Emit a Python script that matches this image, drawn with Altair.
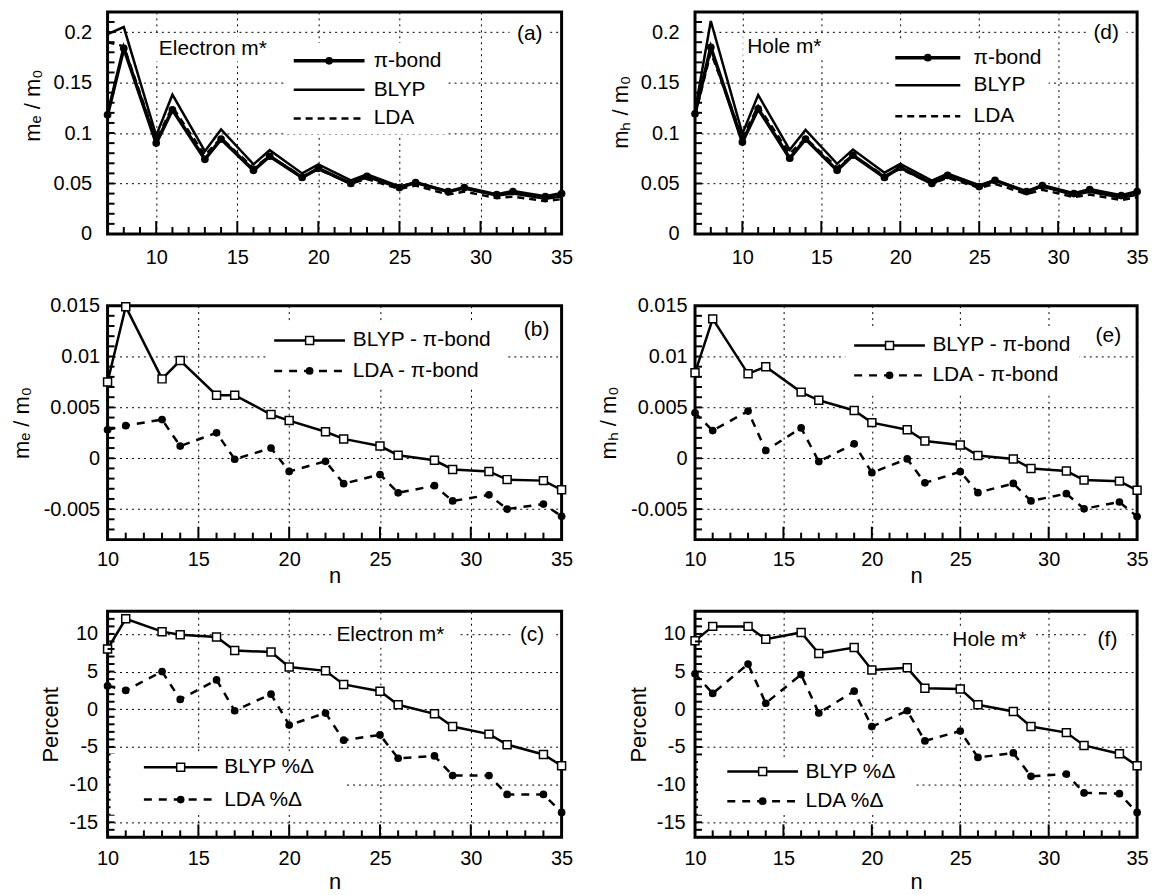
import altair as alt
import pandas as pd

FONT = "Liberation Sans"

# ---------------- data ----------------
n_full = [7, 8, 10, 11, 13, 14, 16, 17, 19, 20, 22, 23, 25, 26, 28, 29, 31, 32, 34, 35]
n_sub = [10, 11, 13, 14, 16, 17, 19, 20, 22, 23, 25, 26, 28, 29, 31, 32, 34, 35]

# (a) electron effective mass
e_pibond = [0.118, 0.184, 0.090, 0.123, 0.074, 0.094, 0.063, 0.077, 0.056, 0.065,
            0.050, 0.057, 0.046, 0.051, 0.042, 0.046, 0.039, 0.042, 0.037, 0.040]
e_blyp = [0.198, 0.205, 0.0975, 0.138, 0.082, 0.1035, 0.069, 0.083, 0.060, 0.069,
          0.053, 0.059, 0.047, 0.051, 0.042, 0.045, 0.038, 0.040, 0.035, 0.037]
e_lda = [0.190, 0.186, 0.093, 0.126, 0.078, 0.095, 0.0655, 0.077, 0.057, 0.064,
         0.050, 0.0545, 0.0445, 0.048, 0.039, 0.042, 0.0355, 0.037, 0.0325, 0.0345]

# (d) hole effective mass
h_pibond = [0.119, 0.185, 0.091, 0.124, 0.075, 0.094, 0.063, 0.078, 0.056, 0.066,
            0.050, 0.058, 0.047, 0.053, 0.042, 0.048, 0.040, 0.044, 0.038, 0.042]
h_blyp = [0.122, 0.211, 0.0994, 0.1377, 0.0833, 0.103, 0.0695, 0.0837, 0.0607, 0.0695,
          0.0528, 0.0597, 0.0483, 0.0533, 0.0419, 0.047, 0.0387, 0.0419, 0.0358, 0.0389]
h_lda = [0.117, 0.180, 0.0955, 0.1267, 0.0796, 0.0948, 0.066, 0.0777, 0.0574, 0.0646,
         0.0499, 0.0556, 0.0457, 0.0496, 0.0395, 0.0438, 0.0365, 0.039, 0.0337, 0.0363]

# (b) electron differences
e_dblyp = [0.0075, 0.0149, 0.0078, 0.0096, 0.0062, 0.0062, 0.0043, 0.0037, 0.0026,
           0.0019, 0.0012, 0.0003, -0.0002, -0.0011, -0.0013, -0.0021, -0.0022, -0.0031]
e_dlda = [0.0028, 0.0032, 0.0038, 0.0012, 0.0025, -0.0001, 0.0010, -0.0013, -0.0003,
          -0.0025, -0.0016, -0.0034, -0.0027, -0.0042, -0.0036, -0.0050, -0.0045, -0.0057]

# (e) hole differences
h_dblyp = [0.0084, 0.0137, 0.0083, 0.0090, 0.0065, 0.0057, 0.0047, 0.0035, 0.0028,
           0.0017, 0.0013, 0.00026, -0.00007, -0.0010, -0.00126, -0.00215, -0.00225, -0.00315]
h_dlda = [0.00447, 0.00272, 0.00464, 0.00076, 0.00298, -0.00033, 0.00142, -0.00142, -0.00007,
          -0.00242, -0.00132, -0.00338, -0.00248, -0.0042, -0.00348, -0.00497, -0.0043, -0.00573]

# (c) electron percent
e_pblyp = [8.0, 12.0, 10.3, 9.9, 9.6, 7.8, 7.6, 5.6, 5.1, 3.3, 2.4, 0.6, -0.6, -2.3, -3.3, -4.7, -6.0, -7.5]
e_plda = [3.1, 2.5, 5.0, 1.3, 3.9, -0.2, 2.0, -2.1, -0.5, -4.1, -3.4, -6.5, -6.2, -8.8, -8.8, -11.3, -11.3, -13.7]

# (f) hole percent
h_pblyp = [9.1, 11.0, 11.0, 9.3, 10.2, 7.4, 8.2, 5.2, 5.5, 2.8, 2.7, 0.6, -0.3, -2.3, -3.1, -4.8, -5.9, -7.5]
h_plda = [4.7, 2.1, 6.0, 0.8, 4.6, -0.5, 2.4, -2.3, -0.2, -4.2, -2.9, -6.4, -5.8, -8.9, -8.6, -11.1, -11.2, -13.7]

# axis tick values
mass_x_major = [10, 15, 20, 25, 30, 35]
mass_x_minor = [8, 9, 11, 12, 13, 14, 16, 17, 18, 19, 21, 22, 23, 24, 26, 27, 28, 29, 31, 32, 33, 34]
mass_y_major = [0, 0.05, 0.1, 0.15, 0.2]
mass_y_minor = [0.01, 0.02, 0.03, 0.04, 0.05, 0.06, 0.07, 0.08, 0.09, 0.1, 0.11, 0.12,
                0.13, 0.14, 0.15, 0.16, 0.17, 0.18, 0.19, 0.2, 0.21]
diff_y_major = [-0.005, 0, 0.005, 0.01, 0.015]
diff_y_minor = [-0.007, -0.006, -0.005, -0.004, -0.003, -0.002, -0.001, 0, 0.001, 0.002, 0.003,
                0.004, 0.005, 0.006, 0.007, 0.008, 0.009, 0.01, 0.011, 0.012, 0.013, 0.014]
pct_y_major = [-15, -10, -5, 0, 5, 10]
pct_y_minor = [-16, -15, -14, -13, -12, -11, -10, -9, -8, -7, -6, -5, -4, -3, -2, -1, 0,
               1, 2, 3, 4, 5, 6, 7, 8, 9, 10, 11, 12]
sub_x_major = [10, 15, 20, 25, 30, 35]
sub_x_minor = [11, 12, 13, 14, 16, 17, 18, 19, 21, 22, 23, 24, 26, 27, 28, 29, 31, 32, 33, 34]

WL, WR = 456, 444
H1, H2, H3 = 223, 235, 227
LAB = 20
TIT = 22
LEG = 21

ONE = pd.DataFrame({"k": [0]})
MINUS_FIX = "replace(format(datum.value, '~g'), '\u2212', '-')"


def note(text, x, y, align="left", size=LEG):
    w = len(text) * size * 0.52 + 8
    if align == "left":
        x0, x1 = x - 4, x - 4 + w
    else:
        x0, x1 = x - w / 2, x + w / 2
    return [
        alt.Chart(ONE).mark_rect(color="white").encode(
            x=alt.value(x0), x2=alt.value(x1),
            y=alt.value(y - size * 0.6), y2=alt.value(y + size * 0.6)),
        alt.Chart(ONE).mark_text(
            text=text, font=FONT, fontSize=size, color="black", align=align, baseline="middle"
        ).encode(x=alt.value(x), y=alt.value(y)),
    ]


def legend(entries, x0, x1, xt, ys, box):
    layers = [alt.Chart(ONE).mark_rect(color="white").encode(
        x=alt.value(box[0]), x2=alt.value(box[1]), y=alt.value(box[2]), y2=alt.value(box[3]))]
    for (label, sw, dash, marker), yy in zip(entries, ys):
        kw = {"color": "black", "strokeWidth": sw}
        if dash:
            kw["strokeDash"] = dash
        layers.append(alt.Chart(ONE).mark_rule(**kw).encode(
            x=alt.value(x0), x2=alt.value(x1), y=alt.value(yy)))
        if marker == "circle":
            layers.append(alt.Chart(ONE).mark_point(
                shape="circle", filled=True, color="black", size=60, opacity=1
            ).encode(x=alt.value((x0 + x1) / 2), y=alt.value(yy)))
        elif marker == "square":
            layers.append(alt.Chart(ONE).mark_point(
                shape="square", filled=True, fill="white", stroke="black", strokeWidth=1.5,
                size=64, opacity=1
            ).encode(x=alt.value((x0 + x1) / 2), y=alt.value(yy)))
        layers.append(alt.Chart(ONE).mark_text(
            text=label, font=FONT, fontSize=LEG, color="black", align="left", baseline="middle"
        ).encode(x=alt.value(xt), y=alt.value(yy)))
    return layers


def panel(W, H, n, series, xdom, ydom, xmajor, xminor, ymajor, yminor, ytitle, xtitle,
          lpx, tpx, lpy, tpy, titleY, extra):
    rows = []
    for s in series:
        for xv, yv in zip(n, s["values"]):
            rows.append({"n": xv, "v": yv, "s": s["name"]})
    df = pd.DataFrame(rows)
    xscale = alt.Scale(domain=xdom, nice=False, zero=False)
    yscale = alt.Scale(domain=ydom, nice=False, zero=False)
    xaxis_kw = dict(values=xmajor, grid=True, gridColor="black", gridDash=[2, 4], gridWidth=1,
                    gridOpacity=1, ticks=False, domain=False, labelFont=FONT, labelFontSize=LAB,
                    labelColor="black", labelPadding=lpx, labelFlush=False, labelOverlap=False,
                    titleFont=FONT, titleFontSize=TIT, titleFontWeight="normal",
                    titleColor="black", titlePadding=tpx)
    xaxis_kw["title"] = xtitle if xtitle else None
    yaxis_kw = dict(values=ymajor, grid=True, gridColor="black", gridDash=[2, 4], gridWidth=1,
                    gridOpacity=1, ticks=False, domain=False, labelFont=FONT, labelFontSize=LAB,
                    labelColor="black", labelPadding=lpy, labelFlush=False, labelOverlap=False,
                    labelExpr=MINUS_FIX, title=ytitle, titleFont=FONT, titleFontSize=TIT,
                    titleFontWeight="normal", titleColor="black", titlePadding=tpy)
    if titleY is not None:
        yaxis_kw["titleY"] = titleY
    X = alt.X("n:Q", scale=xscale, axis=alt.Axis(**xaxis_kw))
    Y = alt.Y("v:Q", scale=yscale, axis=alt.Axis(**yaxis_kw))

    layers = []
    base = alt.Chart(df)
    for s in series:
        kw = {"color": "black", "strokeWidth": s["sw"]}
        if s.get("dash"):
            kw["strokeDash"] = s["dash"]
        layers.append(base.transform_filter(alt.datum.s == s["name"]).mark_line(**kw).encode(x=X, y=Y))
    for s in series:
        if s.get("marker") == "circle":
            layers.append(base.transform_filter(alt.datum.s == s["name"]).mark_point(
                shape="circle", filled=True, color="black", size=60, opacity=1).encode(x=X, y=Y))
        elif s.get("marker") == "square":
            layers.append(base.transform_filter(alt.datum.s == s["name"]).mark_point(
                shape="square", filled=True, fill="white", stroke="black", strokeWidth=1.5,
                size=64, opacity=1).encode(x=X, y=Y))
    # inward ticks
    xt_major = [v for v in xmajor if xdom[0] < v < xdom[1]]
    layers.append(alt.Chart(pd.DataFrame({"n": xt_major})).mark_rule(color="black", strokeWidth=2).encode(
        x=X, y=alt.value(H), y2=alt.value(H - 13)))
    layers.append(alt.Chart(pd.DataFrame({"n": xminor})).mark_rule(color="black", strokeWidth=2).encode(
        x=X, y=alt.value(H), y2=alt.value(H - 7)))
    layers.append(alt.Chart(pd.DataFrame({"v": yminor})).mark_rule(color="black", strokeWidth=2).encode(
        y=Y, x=alt.value(0), x2=alt.value(7)))
    layers += extra
    return alt.layer(*layers).properties(width=W, height=H)


mass_series = lambda pi, bl, ld: [
    {"name": "pi", "values": pi, "sw": 3.5, "marker": "circle"},
    {"name": "blyp", "values": bl, "sw": 2.5},
    {"name": "lda", "values": ld, "sw": 2.5, "dash": [7, 5]}]
diff_series = lambda bl, ld: [
    {"name": "blyp", "values": bl, "sw": 2.5, "marker": "square"},
    {"name": "lda", "values": ld, "sw": 2.5, "dash": [8, 7], "marker": "circle"}]
mass_leg = [("\u03c0-bond", 3.5, None, "circle"), ("BLYP", 2.5, None, None), ("LDA", 2.5, [7, 5], None)]
diff_leg = [("BLYP - \u03c0-bond", 2.5, None, "square"), ("LDA - \u03c0-bond", 2.5, [8, 7], "circle")]
pct_leg = [("BLYP %\u0394", 2.5, None, "square"), ("LDA %\u0394", 2.5, [8, 7], "circle")]

# ---------- panel (a) ----------
W, H = WL, H1
ext_a = (legend(mass_leg, 0.41 * W, 0.566 * W, 0.586 * W, [0.22 * H, 0.35 * H, 0.48 * H],
                (0.39 * W, 0.75 * W, 0.14 * H, 0.55 * H))
         + note("Electron m*", 0.113 * W, 0.167 * H)
         + note("(a)", 0.93 * W, 0.10 * H, align="center"))
pa = panel(W, H, n_full, mass_series(e_pibond, e_blyp, e_lda),
           [7, 35], [0, 0.22], mass_x_major, mass_x_minor, mass_y_major, mass_y_minor,
           "m\u2091 / m\u2080", None, 14, 0, 16, 8, 0.42 * H, ext_a)

# ---------- panel (d) ----------
W, H = WR, H1
ext_d = (legend(mass_leg, 0.453 * W, 0.60 * W, 0.63 * W, [0.206 * H, 0.33 * H, 0.47 * H],
                (0.44 * W, 0.80 * W, 0.13 * H, 0.54 * H))
         + note("Hole m*", 0.118 * W, 0.16 * H)
         + note("(d)", 0.93 * W, 0.096 * H, align="center"))
pdd = panel(W, H, n_full, mass_series(h_pibond, h_blyp, h_lda),
            [7, 35], [0, 0.22], mass_x_major, mass_x_minor, mass_y_major, mass_y_minor,
            "m\u2095 / m\u2080", None, 14, 0, 16, 8, 0.45 * H, ext_d)

# ---------- panel (b) ----------
W, H = WL, H2
ext_b = (legend(diff_leg, 0.367 * W, 0.523 * W, 0.54 * W, [0.149 * H, 0.279 * H],
                (0.35 * W, 0.88 * W, 0.07 * H, 0.35 * H))
         + note("(b)", 0.945 * W, 0.106 * H, align="center"))
pb = panel(W, H, n_sub, diff_series(e_dblyp, e_dlda),
           [10, 35], [-0.008, 0.015], sub_x_major, sub_x_minor, diff_y_major, diff_y_minor,
           "m\u2091 / m\u2080", "n", 10, -4, 8, 10, None, ext_b)

# ---------- panel (e) ----------
W, H = WR, H2
ext_e = (legend(diff_leg, 0.36 * W, 0.52 * W, 0.537 * W, [0.17 * H, 0.298 * H],
                (0.34 * W, 0.87 * W, 0.09 * H, 0.37 * H))
         + note("(e)", 0.935 * W, 0.128 * H, align="center"))
pe = panel(W, H, n_sub, diff_series(h_dblyp, h_dlda),
           [10, 35], [-0.008, 0.015], sub_x_major, sub_x_minor, diff_y_major, diff_y_minor,
           "m\u2095 / m\u2080", "n", 10, -4, 8, 10, None, ext_e)

# ---------- panel (c) ----------
W, H = WL, H3
ext_c = (legend(pct_leg, 0.08 * W, 0.242 * W, 0.257 * W, [0.69 * H, 0.833 * H],
                (3, 0.52 * W, 0.63 * H, 0.90 * H))
         + note("Electron m*", 0.504 * W, 0.105 * H)
         + note("(c)", 0.935 * W, 0.105 * H, align="center"))
pc = panel(W, H, n_sub, diff_series(e_pblyp, e_plda),
           [10, 35], [-17, 13], sub_x_major, sub_x_minor, pct_y_major, pct_y_minor,
           "Percent", "n", 11, 3, 10, 6, None, ext_c)

# ---------- panel (f) ----------
W, H = WR, H3
ext_f = (legend(pct_leg, 0.073 * W, 0.233 * W, 0.25 * W, [0.709 * H, 0.84 * H],
                (3, 0.50 * W, 0.65 * H, 0.90 * H))
         + note("Hole m*", 0.582 * W, 0.128 * H)
         + note("(f)", 0.933 * W, 0.128 * H, align="center"))
pf = panel(W, H, n_sub, diff_series(h_pblyp, h_plda),
           [10, 35], [-17, 13], sub_x_major, sub_x_minor, pct_y_major, pct_y_minor,
           "Percent", "n", 11, 3, 10, 6, None, ext_f)

chart = alt.concat(pa, pdd, pb, pe, pc, pf, columns=2,
                   spacing={"row": 72, "column": 134}, bounds="flush", align="each",
                   padding={"left": 0, "top": 0, "right": 10, "bottom": 5},
                   background="white"
                   ).configure_view(stroke="black", strokeWidth=3)

chart.save("out.html", embed_options={"renderer": "svg", "actions": False})
